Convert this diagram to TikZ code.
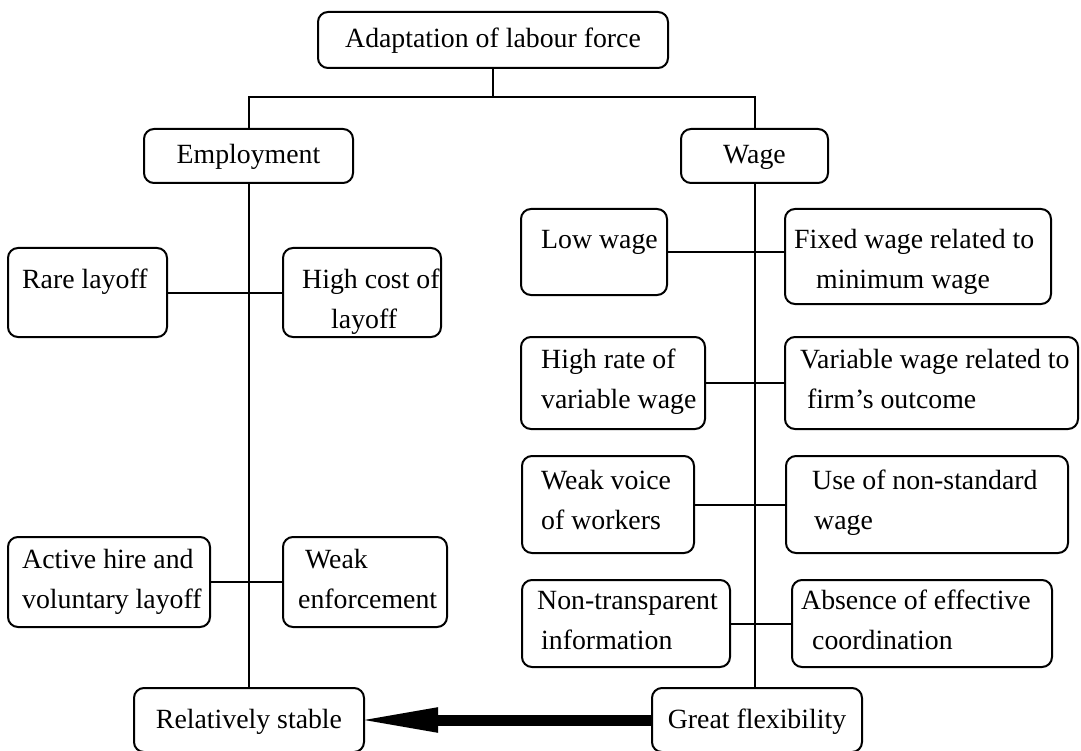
\documentclass[tikz,border=0pt]{standalone}
\usepackage{fontspec}
\setmainfont{Liberation Serif}
\usetikzlibrary{arrows.meta}
\begin{document}
\begin{tikzpicture}[x=1pt,y=-1pt,
  every node/.style={font=\fontsize{27.8}{40}\selectfont, inner sep=0pt},
  box/.style={draw, line width=2pt, rounded corners=10pt},
  txt/.style={anchor=north west, align=left},
  line/.style={line width=2pt}]
\useasboundingbox (0,0) rectangle (1081,751);
\fill[white] (0,0) rectangle (1081,751);

% boxes
\node[box, minimum width=350pt, minimum height=56pt] (top) at (493,40) {\strut Adaptation of labour force};
\node[box, minimum width=209pt, minimum height=54pt] (emp) at (248.5,156) {\strut Employment};
\node[box, minimum width=147pt, minimum height=54pt] (wage) at (754.5,156) {\strut Wage};
\node[box, minimum width=159pt, minimum height=89pt] (rare) at (87.5,292.5) {};
\node[box, minimum width=158pt, minimum height=89pt] (hcost) at (362,292.5) {};
\node[box, minimum width=202pt, minimum height=90pt] (active) at (109,582) {};
\node[box, minimum width=164pt, minimum height=90pt] (weak) at (365,582) {};
\node[box, minimum width=146pt, minimum height=86pt] (low) at (594,252) {};
\node[box, minimum width=266pt, minimum height=95pt] (fixed) at (918,256.5) {};
\node[box, minimum width=184pt, minimum height=92pt] (high) at (613,383) {};
\node[box, minimum width=293pt, minimum height=92pt] (variable) at (931.5,383) {};
\node[box, minimum width=172pt, minimum height=97pt] (voice) at (608,504.5) {};
\node[box, minimum width=282pt, minimum height=97pt] (use) at (927,504.5) {};
\node[box, minimum width=208pt, minimum height=87pt] (nontr) at (626,623.5) {};
\node[box, minimum width=260pt, minimum height=87pt] (absence) at (922,623.5) {};
\node[box, minimum width=230pt, minimum height=64pt] (stable) at (249,720) {\strut Relatively stable};
\node[box, minimum width=210pt, minimum height=64pt] (flex) at (757,720) {\strut Great flexibility};

% texts
\node[txt] (raret) at (22,260) {\strut Rare layoff};
\node[txt] (hcostt) at (302,260) {\strut High cost of\\\hspace*{29pt}layoff};
\node[txt] (activet) at (22,540) {\strut Active hire and\\voluntary layoff};
\node[txt] (weakt) at (298,540) {\strut\hspace*{7pt}Weak\\enforcement};
\node[txt] (lowt) at (541,220) {\strut Low wage};
\node[txt] (fixedt) at (794,220) {\strut Fixed wage related to\\\hspace*{22pt}minimum wage};
\node[txt] (hight) at (541,340) {\strut High rate of\\variable wage};
\node[txt] (vart) at (800,340) {\strut Variable wage related to\\\hspace*{7pt}firm’s outcome};
\node[txt] (voicet) at (541,461) {\strut Weak voice\\of workers};
\node[txt] (uset) at (812,461) {\strut Use of non-standard\\\hspace*{2pt}wage};
\node[txt] (nontrt) at (537,581) {\strut Non-transparent\\\hspace*{4pt}information};
\node[txt] (absencet) at (801,581) {\strut Absence of effective\\\hspace*{11pt}coordination};

% connectors
\path (top.south) ++(0,28) coordinate (j);
\draw[line] (top.south) -- (j);
\draw[line] (emp.north) |- (j) -| (wage.north);
\draw[line] (emp.south) -- (emp.south |- stable.north);
\draw[line] (wage.south) -- (wage.south |- flex.north);
\draw[line] (rare.east) -- (hcost.west);
\draw[line] (active.east) -- (weak.west);
\draw[line] (low.east) -- (low.east -| fixed.west);
\draw[line] (high.east) -- (variable.west);
\draw[line] (voice.east) -- (use.west);
\draw[line] (nontr.east) -- (absence.west);
\draw[line width=11pt, shorten >=-11pt, -{Triangle[length=84pt,width=22pt]}] (flex.west) -- (stable.east);
\end{tikzpicture}
\end{document}
